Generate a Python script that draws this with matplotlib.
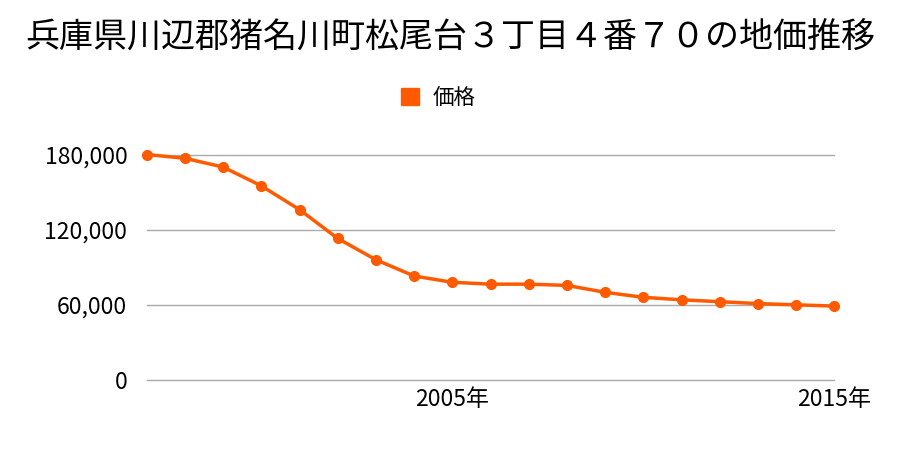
#!/usr/bin/env python3

import matplotlib
matplotlib.use('Agg')
import matplotlib.pyplot as plt
from matplotlib.ticker import FuncFormatter

years = list(range(1997, 2016))
prices = [180000, 177000, 170000, 155000, 136000, 113000, 96000, 83000, 78000,
          76500, 76500, 75500, 70000, 66000, 64000, 62500, 61000, 60000, 59000]
title = '兵庫県川辺郡猪名川町松尾台３丁目４番７０の地価推移'
series_name = '価格'
xticks = [2005, 2015]
yticks = [0, 60000, 120000, 180000]

color = '#ff5a00'
plt.rcParams['font.family'] = ['Noto Sans CJK JP', 'DejaVu Sans']


def main():
    fig = plt.figure(figsize=(9, 4.5), dpi=100)
    ax = fig.add_axes([0.163, 0.1556, 0.764, 0.501])

    ax.plot(years, prices, '-o', color=color, lw=2.5, ms=7, clip_on=False,
            label=series_name, zorder=3)

    ax.set_xlim(years[0], years[-1])
    ax.set_ylim(0, 180000)
    ax.set_yticks(yticks)
    ax.yaxis.set_major_formatter(FuncFormatter(lambda v, p: f'{int(v):,}'))
    ax.set_xticks(xticks)
    ax.set_xticklabels([f'{y}年' for y in xticks])
    ax.grid(axis='y', color='#aaaaaa', lw=1)
    for gl in ax.get_ygridlines():
        gl.set_clip_on(False)
    ax.set_axisbelow(True)
    for s in ax.spines.values():
        s.set_visible(False)
    ax.tick_params(axis='both', length=0, labelsize=16.5)
    ax.tick_params(axis='y', pad=14)
    ax.tick_params(axis='x', pad=6)

    fig.suptitle(title, fontsize=24.5, y=0.955)
    fig.legend(loc='center', bbox_to_anchor=(0.487, 0.782), frameon=False,
               handlelength=0.85, handleheight=0.85, handletextpad=0.6,
               fontsize=15.5,
               handles=[plt.Rectangle((0, 0), 1, 1, color=color)],
               labels=[series_name])

    fig.savefig('out.png')


if __name__ == '__main__':
    main()
